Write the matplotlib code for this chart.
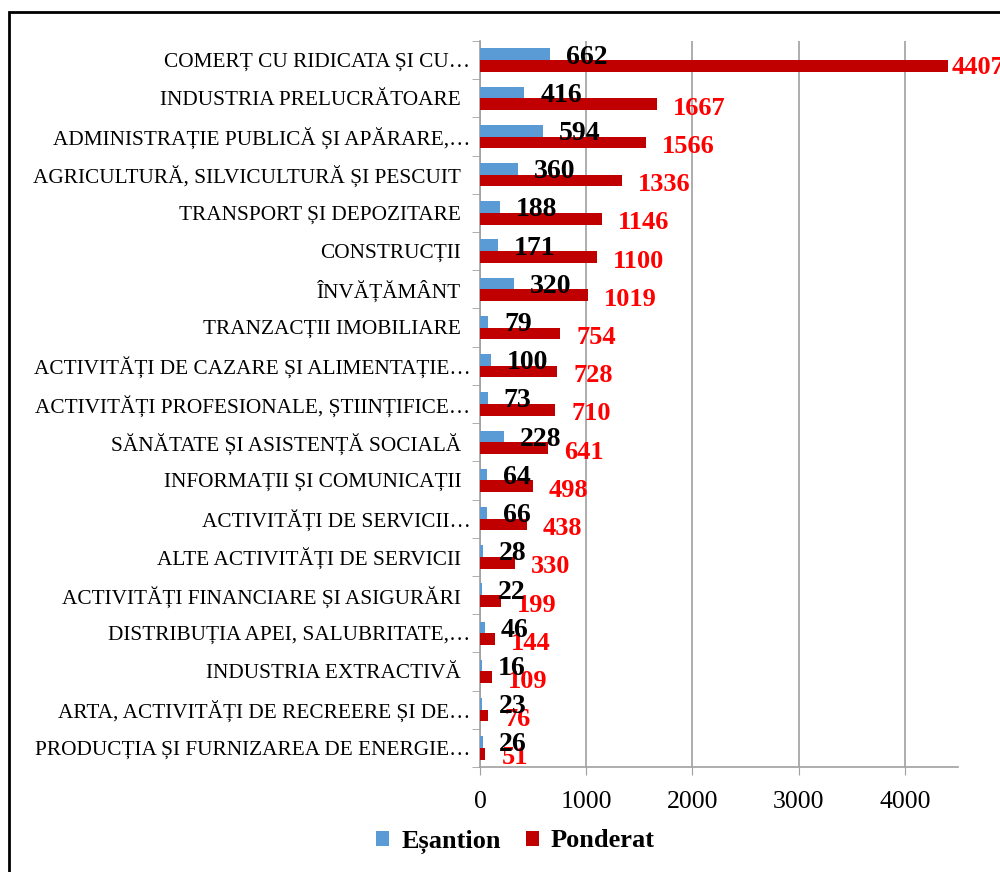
import matplotlib.pyplot as plt
import numpy as np
from matplotlib.patches import Rectangle

plt.rcParams['font.family'] = ['Liberation Serif', 'DejaVu Serif']

# trailing space = label drawn a bit further from the axis, like in the source chart
categories = [
    "COMERȚ CU RIDICATA ȘI CU…",
    "INDUSTRIA PRELUCRĂTOARE ",
    "ADMINISTRAȚIE PUBLICĂ ȘI APĂRARE,…",
    "AGRICULTURĂ, SILVICULTURĂ ȘI PESCUIT ",
    "TRANSPORT ȘI DEPOZITARE ",
    "CONSTRUCȚII ",
    "ÎNVĂȚĂMÂNT ",
    "TRANZACȚII IMOBILIARE ",
    "ACTIVITĂȚI DE CAZARE ȘI ALIMENTAȚIE…",
    "ACTIVITĂȚI PROFESIONALE, ȘTIINȚIFICE…",
    "SĂNĂTATE ȘI ASISTENȚĂ SOCIALĂ ",
    "INFORMAȚII ȘI COMUNICAȚII ",
    "ACTIVITĂȚI DE SERVICII…",
    "ALTE ACTIVITĂȚI DE SERVICII ",
    "ACTIVITĂȚI FINANCIARE ȘI ASIGURĂRI ",
    "DISTRIBUȚIA APEI, SALUBRITATE,…",
    "INDUSTRIA EXTRACTIVĂ ",
    "ARTA, ACTIVITĂȚI DE RECREERE ȘI DE…",
    "PRODUCȚIA ȘI FURNIZAREA DE ENERGIE…",
]
esantion = [662, 416, 594, 360, 188, 171, 320, 79, 100, 73, 228, 64, 66, 28, 22, 46, 16, 23, 26]
ponderat = [4407, 1667, 1566, 1336, 1146, 1100, 1019, 754, 728, 710, 641, 498, 438, 330, 199, 144, 109, 76, 51]

blue = '#5B9BD5'
red = '#C00000'
grid_col = '#a0a0a0'

fig = plt.figure(figsize=(10, 8.72), dpi=100)
ax = fig.add_axes([0.48, 0.1204, 0.478, 0.8326])

n = len(categories)
y = np.arange(n)
h = 0.305
ax.barh(y - h / 2, esantion, height=h, color=blue, label='Eșantion', zorder=3)
ax.barh(y + h / 2, ponderat, height=h, color=red, label='Ponderat', zorder=3)

for i in range(n):
    ax.annotate(str(esantion[i]), (esantion[i], y[i] - h / 2), xytext=(11.5, -2),
                textcoords='offset points', ha='left', va='center',
                fontsize=20, fontweight='bold', color='black', zorder=5)
    # the longest bar gets its label pulled in close to the bar end
    dx = 2.5 if ponderat[i] > 4000 else 11.5
    dy = -1 if ponderat[i] > 4000 else -3
    ax.annotate(str(ponderat[i]), (ponderat[i], y[i] + h / 2), xytext=(dx, dy),
                textcoords='offset points', ha='left', va='center',
                fontsize=19, fontweight='bold', color='#FF0000', zorder=4,
                annotation_clip=False)

# category labels
for i, lab in enumerate(categories):
    pad = 13.5 if lab.endswith(' ') else 7
    ax.annotate(lab.strip(), (0, y[i]), xycoords=('axes fraction', 'data'),
                xytext=(-pad, -1.5), textcoords='offset points', ha='right', va='center',
                fontsize=15.3, annotation_clip=False)

ax.set_ylim(n - 0.5, -0.5)
ax.set_xlim(0, 4500)
ax.set_xticks([0, 1000, 2000, 3000, 4000])
ax.set_yticks(y)
ax.set_yticklabels([])
ax.set_yticks(np.arange(-0.5, n, 1), minor=True)
ax.tick_params(axis='y', which='major', length=0)
ax.tick_params(axis='y', which='minor', length=6, color=grid_col, direction='out')
ax.tick_params(axis='x', length=6, color=grid_col, labelsize=18.5, pad=11)
ax.grid(axis='x', color=grid_col, linewidth=1.2, zorder=0)
for s in ['top', 'right']:
    ax.spines[s].set_visible(False)
for s in ['left', 'bottom']:
    ax.spines[s].set_color(grid_col)
    ax.spines[s].set_linewidth(1.2)

fig.legend(loc='center', bbox_to_anchor=(0.5155, 0.035), ncol=2, frameon=False,
           handlelength=0.5, handleheight=0.5, handletextpad=0.45, columnspacing=0.95,
           prop={'weight': 'bold', 'size': 19})

fig.patches.append(Rectangle((0.009, -0.1), 1.2, 1.1 - 12 / 872, transform=fig.transFigure,
                             fill=False, edgecolor='black', linewidth=2))

plt.savefig('out.png', dpi=100)
